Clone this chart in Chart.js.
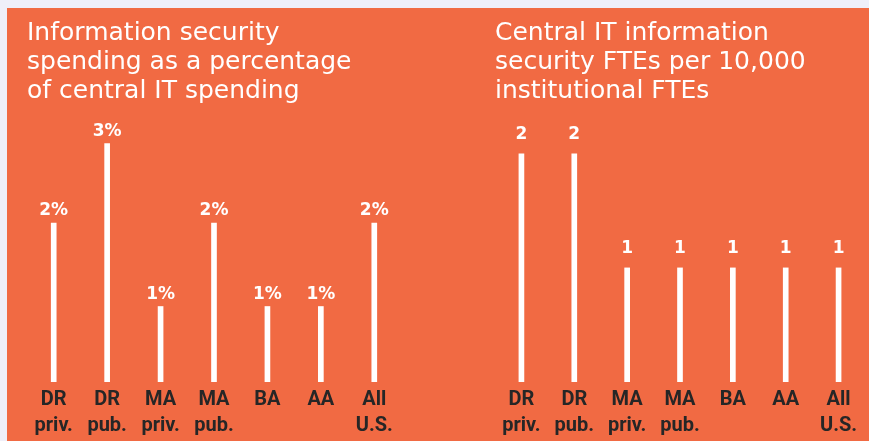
<!DOCTYPE html>
<html>
<head>
<meta charset="utf-8">
<script src="https://cdn.jsdelivr.net/npm/chart.js@4.4.1/dist/chart.umd.min.js"></script>
<style>
  html, body { margin: 0; padding: 0; background: #EFEFF9; width: 869px; height: 441px; overflow: hidden; }
  #panel { position: absolute; left: 7px; top: 8px; width: 862px; height: 433px; background: #F16A43; overflow: hidden; }
  #c1 { position: absolute; left: 0; top: 0; }
  #c2 { position: absolute; left: 433px; top: 0; }
</style>
</head>
<body>
<div id="panel">
  <canvas id="c1" width="433" height="439" style="width:433px;height:439px"></canvas>
  <canvas id="c2" width="429" height="439" style="width:429px;height:439px"></canvas>
</div>
<script>
const categories = [["DR", "priv."], ["DR", "pub."], ["MA", "priv."], ["MA", "pub."], ["BA", ""], ["AA", ""], ["All", "U.S."]];
const spendingPct = [2.0, 3.0, 0.95, 2.0, 0.95, 0.95, 2.0];
const ftesPer10k = [2, 2, 1, 1, 1, 1, 1];
const titleLeft = ["Information security", "spending as a percentage", "of central IT spending"];
const titleRight = ["Central IT information", "security FTEs per 10,000", "institutional FTEs"];

const valueLabels = {
  id: 'valueLabels',
  afterDatasetsDraw(chart, args, opts) {
    const ctx = chart.ctx;
    const meta = chart.getDatasetMeta(0);
    ctx.save();
    ctx.fillStyle = '#FFFFFF';
    ctx.font = 'bold 17px "DejaVu Sans"';
    ctx.textAlign = 'center';
    ctx.textBaseline = 'middle';
    meta.data.forEach((bar, i) => {
      const v = chart.data.datasets[0].data[i];
      ctx.fillText(opts.fmt(v), bar.x, bar.y - opts.offset);
    });
    ctx.restore();
  }
};

function makeChart(id, title, data, yMax, pad, fmt, offset) {
  return new Chart(document.getElementById(id), {
    type: 'bar',
    data: {
      labels: categories,
      datasets: [{ data: data, backgroundColor: '#FFFFFF', borderWidth: 0, barThickness: 5 }]
    },
    options: {
      responsive: false,
      animation: false,
      layout: { padding: pad },
      plugins: {
        legend: { display: false },
        tooltip: { enabled: false },
        title: {
          display: true,
          text: title,
          align: 'start',
          color: '#FFFFFF',
          font: { family: '"DejaVu Sans"', size: 25, weight: 'normal', lineHeight: 1.16 },
          padding: { top: 11, bottom: 9 }
        },
        valueLabels: { fmt: fmt, offset: offset }
      },
      scales: {
        x: {
          grid: { display: false, drawTicks: false },
          border: { display: false },
          ticks: {
            color: '#262626',
            font: { family: 'Roboto', size: 20, weight: 'bold', lineHeight: 1.3 },
            padding: 5,
            maxRotation: 0,
            autoSkip: false
          }
        },
        y: {
          display: false,
          min: 0,
          max: yMax
        }
      }
    },
    plugins: [valueLabels]
  });
}

makeChart('c1', titleLeft, spendingPct, 3.36, { left: 20, right: 39, top: 0, bottom: 3 }, v => Math.round(v) + '%', 12);
makeChart('c2', titleRight, ftesPer10k, 2.34, { left: 55, right: 4, top: 0, bottom: 3 }, v => String(Math.round(v)), 19);
</script>
</body>
</html>
